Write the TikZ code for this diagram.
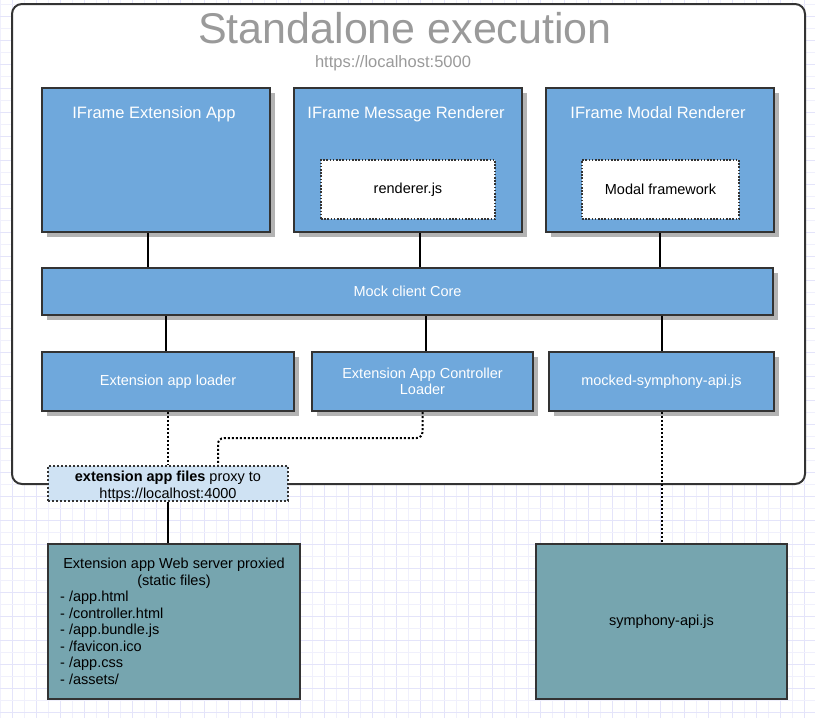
\documentclass[tikz,border=0pt]{standalone}
\usepackage{fontspec}
\setmainfont{Liberation Sans}
\usetikzlibrary{shadows}
\definecolor{boxblue}{HTML}{6FA8DC}
\definecolor{edgec}{HTML}{333333}
\definecolor{tealc}{HTML}{76A5AF}
\definecolor{proxyblue}{HTML}{CFE2F3}
\definecolor{titlegray}{HTML}{9A9A9A}
\definecolor{gridc}{HTML}{E4E4FA}
\definecolor{gridl}{HTML}{F0F0FC}
\definecolor{shadowc}{HTML}{B3B3B3}
\newcommand{\fs}{\fontsize{14.5}{16.5}\selectfont}
\begin{document}
\begin{tikzpicture}[x=1pt,y=-1pt,
  container/.style={draw=edgec, line width=2pt, fill=white, rounded corners=10pt, inner sep=0, minimum width=793, minimum height=480},
  bluebox/.style={draw=edgec, line width=2pt, fill=boxblue, inner sep=0,
     general shadow={fill=shadowc, shadow xshift=5pt, shadow yshift=-5pt},
     text=white, font=\fs, align=center},
  innerbox/.style={draw=edgec, line width=1.6pt, dash pattern=on 1.6pt off 1.6pt, fill=white, inner sep=0, font=\fs},
  proxybox/.style={draw=edgec, line width=2pt, dash pattern=on 2pt off 2pt, fill=proxyblue, inner sep=0},
  tealbox/.style={draw=edgec, line width=2pt, fill=tealc, inner sep=0, font=\fs},
  solidline/.style={draw=black, line width=2pt},
  dotline/.style={draw=black, line width=2pt, dash pattern=on 2pt off 2pt},
  txt/.style={inner sep=0, font=\fs},
  headtxt/.style={inner sep=0, text=white, anchor=base, font=\fontsize{16.5}{19}\selectfont}
]
\useasboundingbox (0,0) rectangle (815,718);
\fill[white] (0,0) rectangle (815,718);
% grid
\foreach \i in {0,...,68} {
  \pgfmathtruncatemacro{\odd}{mod(\i,2)}
  \ifnum\odd=1 \draw[gridc, line width=1pt] (12*\i,0) -- (12*\i,718);
  \else \draw[gridl, line width=1pt] (12*\i,0) -- (12*\i,718); \fi
}
\foreach \j in {0,...,59} {
  \pgfmathtruncatemacro{\odd}{mod(\j,2)}
  \ifnum\odd=1 \draw[gridc, line width=1pt] (0,4+12*\j) -- (815,4+12*\j);
  \else \draw[gridl, line width=1pt] (0,4+12*\j) -- (815,4+12*\j); \fi
}

% container
\node[container] (cont) at (408.5,244) {};
\node[inner sep=0, text=titlegray, font=\fontsize{43}{48}\selectfont] (title) at (405,28) {Standalone execution};
\node[inner sep=0, text=titlegray, font=\fontsize{16.5}{19}\selectfont] (sub) at (393,63) {https://localhost:5000};

% top boxes
\node[bluebox, minimum width=228, minimum height=144] (app) at (156,160) {};
\node[bluebox, minimum width=228, minimum height=144] (msg) at (408,160) {};
\node[bluebox, minimum width=228, minimum height=144] (modal) at (660,160) {};
\node[headtxt] (appt) at (154,118) {IFrame Extension App};
\node[headtxt] (msgt) at (406,118) {IFrame Message Renderer};
\node[headtxt] (modalt) at (658,118) {IFrame Modal Renderer};
\node[innerbox, minimum width=174, minimum height=59] (rend) at (408,189.5) {renderer.js};
\node[innerbox, minimum width=157, minimum height=59] (modfw) at (660.5,189.5) {Modal framework};

% core
\node[bluebox, minimum width=731, minimum height=47] (core) at (407.5,291.5) {Mock client Core};

% loaders
\node[bluebox, minimum width=252, minimum height=59] (loader) at (168,381.5) {Extension app loader};
\node[bluebox, minimum width=221, minimum height=59] (ctrl) at (422.5,381.5) {Extension App Controller\\Loader};
\node[bluebox, minimum width=225, minimum height=59] (mocked) at (661.5,381.5) {mocked-symphony-api.js};

% connectors top -> core
\draw[solidline] (148,0 |- app.south) -- (148,0 |- core.north);
\draw[solidline] (420,0 |- msg.south) -- (420,0 |- core.north);
\draw[solidline] (660,0 |- modal.south) -- (660,0 |- core.north);
% core -> loaders
\draw[solidline] (166,0 |- core.south) -- (166,0 |- loader.north);
\draw[solidline] (426,0 |- core.south) -- (426,0 |- ctrl.north);
\draw[solidline] (662,0 |- core.south) -- (662,0 |- mocked.north);

% bottom boxes
\node[tealbox, minimum width=252, minimum height=155] (web) at (174,621.5) {};
\node[txt, anchor=north, align=center] (webh) at (174,558) {Extension app Web server proxied\\(static files)};
\node[txt, anchor=north west, align=left] (webl) at (60,591) {- /app.html\\- /controller.html\\- /app.bundle.js\\- /favicon.ico\\- /app.css\\- /assets/};
\node[tealbox, minimum width=251, minimum height=155] (sym) at (661.5,621.5) {symphony-api.js};

% proxy
\node[proxybox, minimum width=240, minimum height=35] (proxy) at (168,483.5) {};
\node[txt, align=center] (proxyt) at (168,486) {\textbf{extension app files} proxy to\\https://localhost:4000};

% dotted connectors
\draw[dotline] (loader.south) -- (proxy.north);
\coordinate (bend) at (218,438);
\draw[dotline, rounded corners=6pt] (ctrl.south) |- (bend) -- (bend |- proxy.north);
\draw[dotline] (mocked.south) -- (sym.north);
\draw[solidline] (proxy.south) -- (proxy.south |- web.north);
\end{tikzpicture}
\end{document}
